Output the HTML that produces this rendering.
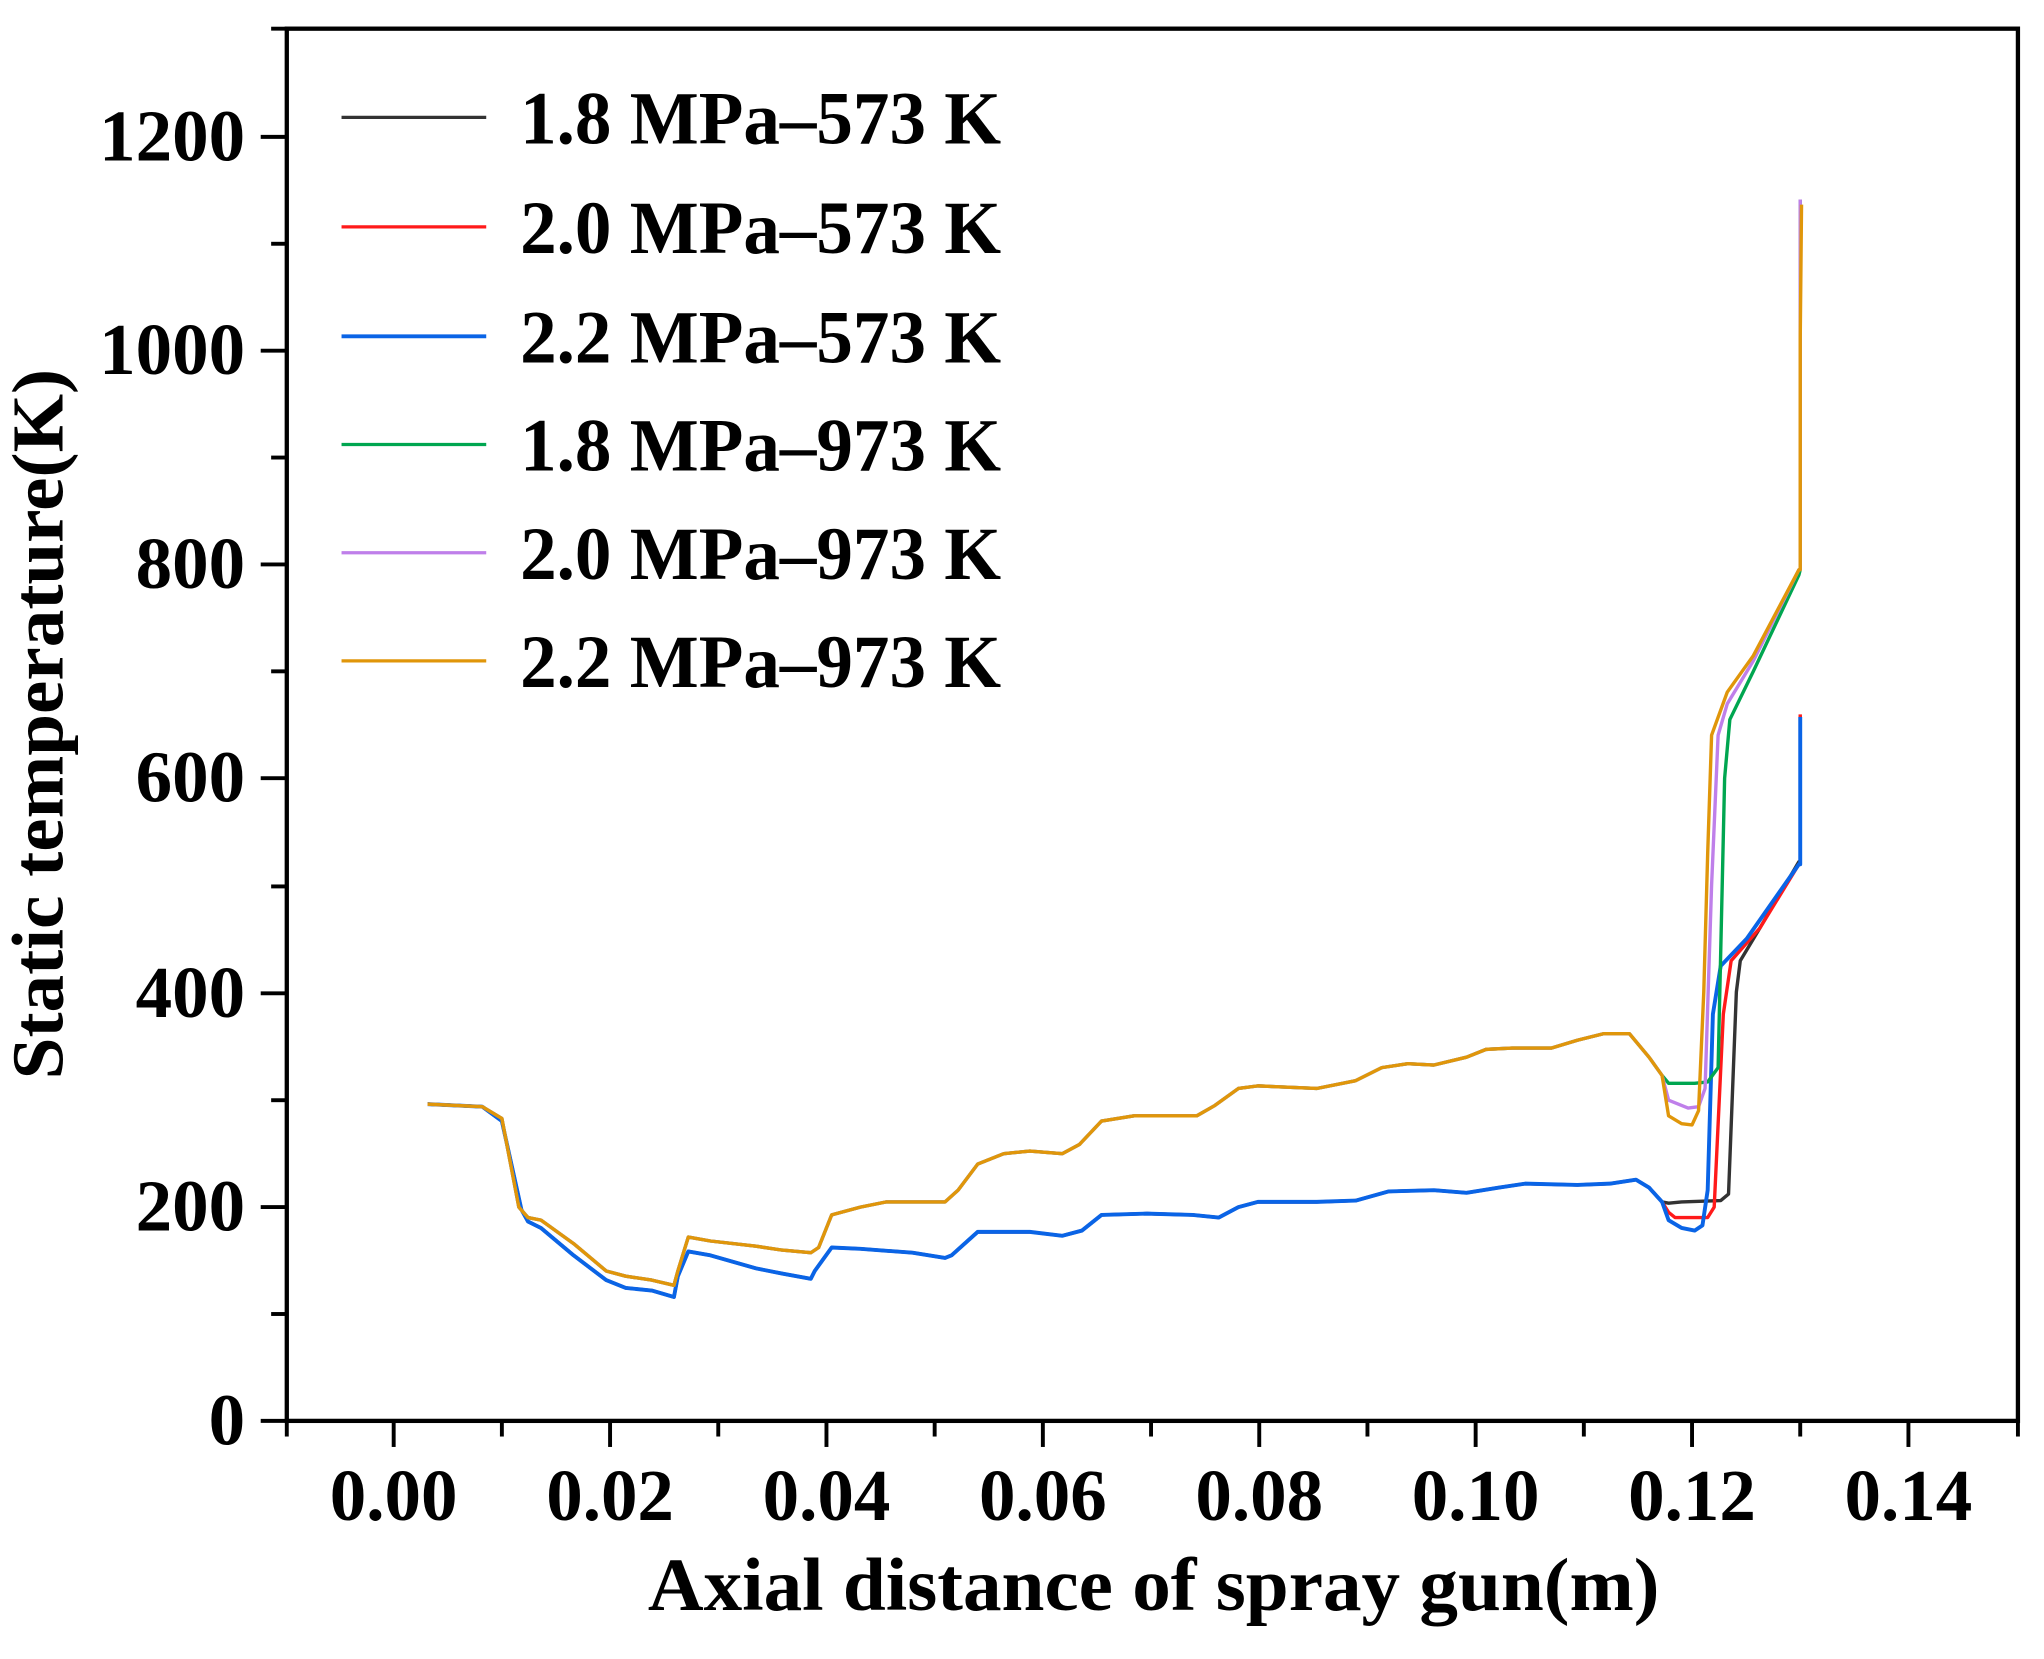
<!DOCTYPE html>
<html><head><meta charset="utf-8"><style>
html,body{margin:0;padding:0;background:#fff;}
svg{display:block;}
text{font-family:"Liberation Serif",serif;font-weight:bold;fill:#000;}
</style></head><body>
<svg width="2044" height="1659" viewBox="0 0 1568 1272.66" preserveAspectRatio="none" xmlns="http://www.w3.org/2000/svg">
<rect width="1568" height="1273" fill="#fff"/>
<!-- axes frame -->
<rect x="220" y="22" width="1328" height="1068" fill="none" stroke="#000" stroke-width="3.3"/>
<!-- x ticks -->
<g stroke="#000" stroke-width="3">
<line x1="220" y1="1090" x2="220" y2="1102"/>
<line x1="302" y1="1090" x2="302" y2="1110"/>
<line x1="385" y1="1090" x2="385" y2="1102"/>
<line x1="468" y1="1090" x2="468" y2="1110"/>
<line x1="551" y1="1090" x2="551" y2="1102"/>
<line x1="634" y1="1090" x2="634" y2="1110"/>
<line x1="717" y1="1090" x2="717" y2="1102"/>
<line x1="800" y1="1090" x2="800" y2="1110"/>
<line x1="883" y1="1090" x2="883" y2="1102"/>
<line x1="966" y1="1090" x2="966" y2="1110"/>
<line x1="1049" y1="1090" x2="1049" y2="1102"/>
<line x1="1132" y1="1090" x2="1132" y2="1110"/>
<line x1="1215" y1="1090" x2="1215" y2="1102"/>
<line x1="1298" y1="1090" x2="1298" y2="1110"/>
<line x1="1381" y1="1090" x2="1381" y2="1102"/>
<line x1="1464" y1="1090" x2="1464" y2="1110"/>
<line x1="1548" y1="1090" x2="1548" y2="1102"/>
<!-- y ticks -->
<line x1="200" y1="1090" x2="220" y2="1090"/>
<line x1="208" y1="1008" x2="220" y2="1008"/>
<line x1="200" y1="926" x2="220" y2="926"/>
<line x1="208" y1="844" x2="220" y2="844"/>
<line x1="200" y1="762" x2="220" y2="762"/>
<line x1="208" y1="680" x2="220" y2="680"/>
<line x1="200" y1="597" x2="220" y2="597"/>
<line x1="208" y1="515" x2="220" y2="515"/>
<line x1="200" y1="433" x2="220" y2="433"/>
<line x1="208" y1="351" x2="220" y2="351"/>
<line x1="200" y1="269" x2="220" y2="269"/>
<line x1="208" y1="187" x2="220" y2="187"/>
<line x1="200" y1="105" x2="220" y2="105"/>
<line x1="208" y1="22" x2="220" y2="22"/>
</g>
<!-- y labels -->
<g font-size="56" text-anchor="end">
<text x="188" y="1108">0</text>
<text x="188" y="944">200</text>
<text x="188" y="780">400</text>
<text x="188" y="615">600</text>
<text x="188" y="451">800</text>
<text x="188" y="287">1000</text>
<text x="188" y="123">1200</text>
</g>
<!-- x labels -->
<g font-size="56" text-anchor="middle">
<text x="302" y="1166">0.00</text>
<text x="468" y="1166">0.02</text>
<text x="634" y="1166">0.04</text>
<text x="800" y="1166">0.06</text>
<text x="966" y="1166">0.08</text>
<text x="1132" y="1166">0.10</text>
<text x="1298" y="1166">0.12</text>
<text x="1464" y="1166">0.14</text>
</g>
<text x="497" y="1235" font-size="58" textLength="776" lengthAdjust="spacingAndGlyphs">Axial distance of spray gun(m)</text>
<text transform="translate(48,828) rotate(-90)" font-size="56" textLength="545" lengthAdjust="spacingAndGlyphs">Static temperature(K)</text>
<!-- legend -->
<g stroke-width="2.5">
<line x1="262" y1="90" x2="373" y2="90" stroke="#333"/>
<line x1="262" y1="174" x2="373" y2="174" stroke="#ff1a1a"/>
<line x1="262" y1="258" x2="373" y2="258" stroke="#0a64e6" stroke-width="3"/>
<line x1="262" y1="341" x2="373" y2="341" stroke="#00a650"/>
<line x1="262" y1="424" x2="373" y2="424" stroke="#bf7fea"/>
<line x1="262" y1="507" x2="373" y2="507" stroke="#e0960a"/>
</g>
<g font-size="58">
<text x="399" y="110" textLength="369" lengthAdjust="spacingAndGlyphs">1.8 MPa–573 K</text>
<text x="399" y="194" textLength="369" lengthAdjust="spacingAndGlyphs">2.0 MPa–573 K</text>
<text x="399" y="278" textLength="369" lengthAdjust="spacingAndGlyphs">2.2 MPa–573 K</text>
<text x="399" y="361" textLength="369" lengthAdjust="spacingAndGlyphs">1.8 MPa–973 K</text>
<text x="399" y="444" textLength="369" lengthAdjust="spacingAndGlyphs">2.0 MPa–973 K</text>
<text x="399" y="527" textLength="369" lengthAdjust="spacingAndGlyphs">2.2 MPa–973 K</text>
</g>
<!-- series -->
<g fill="none" stroke-width="2.6" stroke-linejoin="round">
<polyline stroke="#333" points="328,847 370,849 385,860 400,928 405,937 415,942 440,963 465,982 480,988 500,990 517,995 520,979 528,960 545,963 580,973 600,977 622,981 625,975 638,957 660,958 700,961 725,965 730,963 750,945 790,945 815,948 830,944 845,932 880,931 915,932 935,934 950,926 965,922 1010,922 1040,921 1065,914 1100,913 1125,915 1150,911 1170,908 1210,909 1235,908 1255,905 1265,911 1275,922 1280,923 1290,922 1320,921 1326,916 1332,761 1335,737 1350,712 1380,661 1381,661 1381,549"/>
<polyline stroke="#ff1a1a" points="328,847 370,849 385,860 400,928 405,937 415,942 440,963 465,982 480,988 500,990 517,995 520,979 528,960 545,963 580,973 600,977 622,981 625,975 638,957 660,958 700,961 725,965 730,963 750,945 790,945 815,948 830,944 845,932 880,931 915,932 935,934 950,926 965,922 1010,922 1040,921 1065,914 1100,913 1125,915 1150,911 1170,908 1210,909 1235,908 1255,905 1265,911 1275,922 1280,930 1285,934 1310,934 1315,926 1322,778 1328,737 1350,712 1380,663 1381,663 1381,548"/>
<polyline stroke="#0a64e6" stroke-width="3" points="328,847 370,849 385,860 400,928 405,937 415,942 440,963 465,982 480,988 500,990 517,995 520,979 528,960 545,963 580,973 600,977 622,981 625,975 638,957 660,958 700,961 725,965 730,963 750,945 790,945 815,948 830,944 845,932 880,931 915,932 935,934 950,926 965,922 1010,922 1040,921 1065,914 1100,913 1125,915 1150,911 1170,908 1210,909 1235,908 1255,905 1265,911 1275,922 1280,936 1290,942 1300,944 1306,940 1310,913 1314,778 1320,741 1340,720 1380,663 1381,663 1381,550"/>
<polyline stroke="#00a650" points="328,847 370,849 385,858 398,926 405,934 415,936 440,954 465,975 480,979 500,982 517,986 520,975 528,949 545,952 580,956 600,959 622,961 628,957 638,932 660,926 680,922 725,922 735,913 750,893 770,885 790,883 815,885 828,878 845,860 870,856 918,856 932,848 950,835 965,833 1010,835 1040,829 1060,819 1080,816 1100,817 1125,811 1140,805 1160,804 1190,804 1210,798 1230,793 1250,793 1265,811 1275,825 1280,831 1300,831 1310,830 1318,819 1323,597 1327,552 1345,515 1380,441 1381,437 1381,153"/>
<polyline stroke="#bf7fea" points="328,847 370,849 385,858 398,926 405,934 415,936 440,954 465,975 480,979 500,982 517,986 520,975 528,949 545,952 580,956 600,959 622,961 628,957 638,932 660,926 680,922 725,922 735,913 750,893 770,885 790,883 815,885 828,878 845,860 870,856 918,856 932,848 950,835 965,833 1010,835 1040,829 1060,819 1080,816 1100,817 1125,811 1140,805 1160,804 1190,804 1210,798 1230,793 1250,793 1265,811 1275,825 1280,844 1295,850 1303,849 1308,835 1313,679 1318,564 1325,540 1345,507 1380,437 1381,437 1381,153"/>
<polyline stroke="#e0960a" points="328,847 370,849 385,858 398,926 405,934 415,936 440,954 465,975 480,979 500,982 517,986 520,975 528,949 545,952 580,956 600,959 622,961 628,957 638,932 660,926 680,922 725,922 735,913 750,893 770,885 790,883 815,885 828,878 845,860 870,856 918,856 932,848 950,835 965,833 1010,835 1040,829 1060,819 1080,816 1100,817 1125,811 1140,805 1160,804 1190,804 1210,798 1230,793 1250,793 1265,811 1275,825 1280,856 1290,862 1298,863 1303,852 1307,761 1310,655 1313,564 1325,531 1345,503 1380,437 1381,437 1381,260 1382,157"/>
</g>
</svg>
</body></html>
